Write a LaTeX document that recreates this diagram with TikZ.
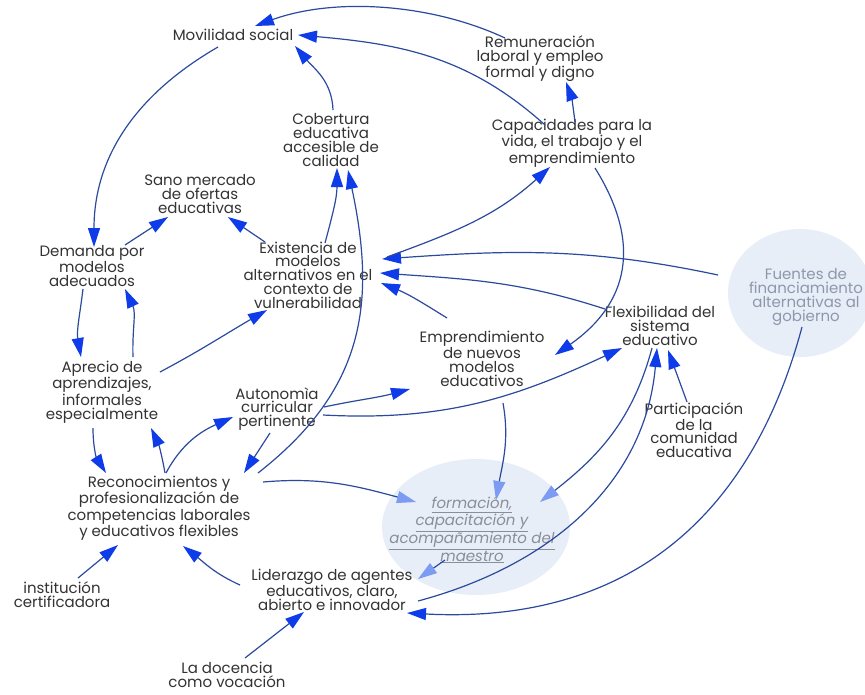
\documentclass[tikz,border=0pt]{standalone}
\usepackage{fontspec}
\setmainfont{Poppins}
\usetikzlibrary{arrows.meta,shapes.geometric,calc}
\definecolor{linec}{HTML}{2B4A9E}
\definecolor{tipc}{HTML}{0D3CE8}
\definecolor{tipl}{HTML}{7C9BF2}
\definecolor{txt}{HTML}{333333}
\definecolor{bgc}{HTML}{E8EEF8}
\definecolor{fuetxt}{HTML}{8C98AC}
\definecolor{fortxt}{HTML}{8A8E9A}
\begin{document}
\begin{tikzpicture}[x=1pt,y=1pt,
 lbl/.style={align=center, text=txt, inner sep=0pt, font=\fontsize{15}{13.8}\selectfont},
 arr/.style={draw=linec, line width=1.2pt, -{Triangle[length=19pt,width=12pt,color=tipc]}},
 arrl/.style={draw=linec, line width=1.2pt, -{Triangle[length=19pt,width=12pt,color=tipl]}},
 blob/.style={fill=bgc}]
\fill[white] (0,0) rectangle (865,-694);
\useasboundingbox (0,0) rectangle (865,-694);
\fill[blob] (800,-293) ellipse [x radius=72, y radius=64];
\fill[blob] (476,-527) ellipse [x radius=94, y radius=68];

\node[lbl] (mov) at (233,-35) {Movilidad social};
\node[lbl] (rem) at (540,-59) {Remuneración\\laboral y empleo\\formal y digno};
\node[lbl] (cap) at (572,-143) {Capacidades para la\\vida, el trabajo y el\\emprendimiento};
\node[lbl] (cob) at (331,-140) {Cobertura\\educativa\\accesible de\\calidad};
\node[lbl] (san) at (200,-194) {Sano mercado\\de ofertas\\educativas};
\node[lbl] (exi) at (308,-275) {Existencia de\\modelos\\alternativos en el\\contexto de\\vulnerabilidad};
\node[lbl] (dem) at (92,-266) {Demanda por\\modelos\\adecuados};
\node[lbl] (apr) at (102,-392) {Aprecio de\\aprendizajes,\\informales\\especialmente};
\node[lbl] (aut) at (277,-409) {Autonomìa\\curricular\\pertinente};
\node[lbl] (rec) at (159,-508) {Reconocimientos y\\profesionalización de\\competencias laborales\\y educativos flexibles};
\node[lbl] (emp) at (482,-359) {Emprendimiento\\de nuevos\\modelos\\educativos};
\node[lbl] (fle) at (660,-326) {Flexibilidad del\\sistema\\educativo};
\node[lbl,text=fuetxt] (fue) at (806,-297) {Fuentes de\\financiamiento\\alternativas al\\gobierno};
\node[lbl] (par) at (694,-430) {Participación\\de la\\comunidad\\educativa};
\node[lbl,text=fortxt,font=\fontsize{15}{13.8}\selectfont\itshape] (frm) at (472,-530) {\underline{formación,}\\\underline{capacitación y}\\\underline{acompañamiento del}\\\underline{maestro}};
\node[lbl] (ins) at (62,-595) {institución\\certificadora};
\node[lbl] (lid) at (332,-590) {Liderazgo de agentes\\educativos, claro,\\abierto e innovador};
\node[lbl] (doc) at (227,-675) {La docencia\\como vocación};

\draw[arr] ($(rem)+(-35,21)$) to[out=155,in=20,looseness=0.85] ($(mov)+(22,9)$);
\draw[arr] ($(cap)+(-27,18)$) to[out=138,in=-5] ($(mov)+(65,0)$);
\draw[arr] ($(cap)+(3,21)$) to[out=97,in=-70] ($(rem)+(26,-23)$);
\draw[arr] ($(cob)+(2,30)$) to[out=92,in=-50] ($(mov)+(62,-11)$);
\draw[arr] ($(mov)+(-15,-12)$) to[out=210,in=90] ($(dem)+(2,19)$);
\draw[arr] ($(exi)+(17,32)$) to[out=75,in=-90] ($(cob)+(6,-28)$);
\draw[arr] ($(rec)+(99,35)$) to[out=38,in=-78,looseness=1.1] ($(cob)+(17,-30)$);
\draw[arr] ($(exi)+(-43,33)$) -- ($(san)+(28,-23)$);
\draw[arr] ($(dem)+(33,21)$) -- ($(san)+(-32,-23)$);
\draw[arr] ($(dem)+(-9,-23)$) to[out=-97,in=100] ($(apr)+(-21,35)$);
\draw[arr] ($(apr)+(31,35)$) to[out=92,in=-65] ($(dem)+(33,-23)$);
\draw[arr] ($(apr)+(58,20)$) to[out=28,in=-150] ($(exi)+(-41,-35)$);
\draw[arr] ($(apr)+(-9,-36)$) to[out=-90,in=122] ($(rec)+(-53,35)$);
\draw[arr] ($(rec)+(6,35)$) to[out=100,in=-65] ($(apr)+(49,-36)$);
\draw[arr] ($(rec)+(7,35)$) to[out=62,in=204] ($(aut)+(-44,-8)$);
\draw[arr] ($(aut)+(-7,-24)$) -- ($(rec)+(85,35)$);
\draw[arr] ($(aut)+(47,2)$) to[out=12,in=195] ($(emp)+(-72,-30)$);
\draw[arr] ($(aut)+(46,-6)$) to[out=-3,in=205] ($(fle)+(-38,-22)$);
\draw[arrl] ($(rec)+(104,26)$) to[out=5,in=165] ($(frm)+(-56,28)$);
\draw[arr] ($(ins)+(16,17)$) -- ($(rec)+(-41,-37)$);
\draw[arr] ($(lid)+(-92,5)$) to[out=156,in=-38] ($(rec)+(24,-38)$);
\draw[arr] ($(doc)+(18,17)$) -- ($(lid)+(-28,-22)$);
\draw[arrl] ($(frm)+(-27,-30)$) -- ($(lid)+(86,11)$);
\draw[arr] ($(lid)+(86,-11)$) to[out=15,in=-95] ($(fle)+(-3,-22)$);
\draw[arr] ($(fue)+(-4,-30)$) to[out=-105,in=-3,looseness=1.1] ($(lid)+(75,-23)$);
\draw[arrl] ($(fle)+(-8,-22)$) to[out=-105,in=38] ($(frm)+(68,28)$);
\draw[arr] ($(par)+(-7,28)$) -- ($(fle)+(8,-24)$);
\draw[arrl] ($(emp)+(21,-44)$) to[out=-80,in=80] ($(frm)+(24,30)$);
\draw[arr] ($(emp)+(-35,41)$) to[out=148,in=-22] ($(exi)+(73,-8)$);
\draw[arr] ($(fle)+(-55,17)$) to[out=162,in=-4] ($(exi)+(72,2)$);
\draw[arr] ($(fue)+(-88,22)$) to[out=168,in=4] ($(exi)+(74,16)$);
\draw[arr] ($(cap)+(23,-25)$) to[out=-58,in=35,looseness=1.2] ($(emp)+(73,4)$);
\draw[arr] ($(exi)+(79,18)$) to[out=20,in=-138] ($(cap)+(-22,-24)$);
\end{tikzpicture}
\end{document}
